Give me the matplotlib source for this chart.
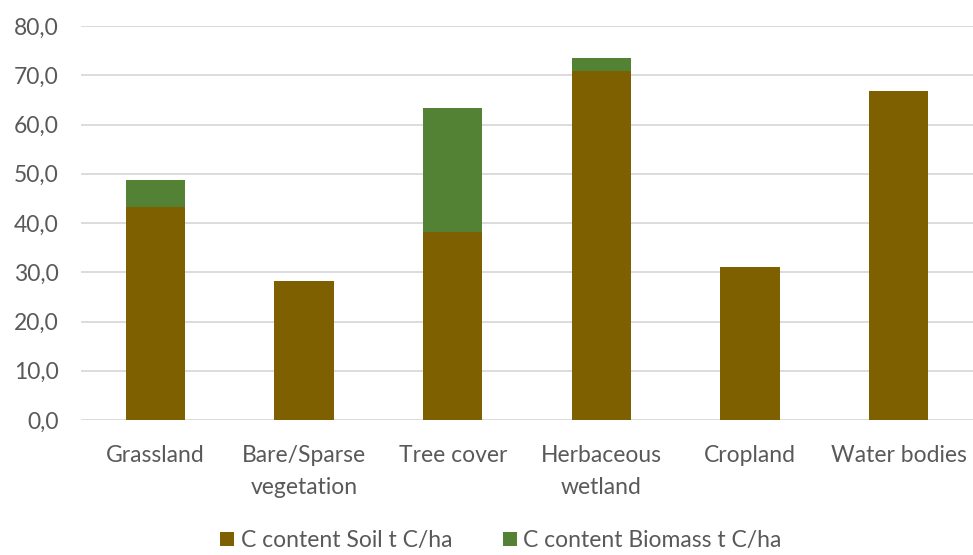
import numpy as np
import matplotlib.pyplot as plt

categories = ["Grassland", "Bare/Sparse\nvegetation", "Tree cover",
              "Herbaceous\nwetland", "Cropland", "Water bodies"]
soil = np.array([43.2, 28.3, 38.1, 70.8, 31.0, 66.9])
biomass = np.array([5.5, 0.0, 25.2, 2.7, 0.0, 0.0])

soil_color = "#7F6000"
biomass_color = "#548235"
text_color = "#595959"

plt.rcParams['font.family'] = ['Lato', 'DejaVu Sans']

fig = plt.figure(figsize=(9.73, 5.55), dpi=100)
ax = fig.add_axes([0.0833, 0.2432, 0.9167, 0.7098])

x = np.arange(len(categories))
ax.bar(x, soil, width=0.4, color=soil_color, label="C content Soil t C/ha", zorder=3)
ax.bar(x, biomass, width=0.4, bottom=soil, color=biomass_color,
       label="C content Biomass t C/ha", zorder=3)

ax.set_xlim(-0.5, len(categories) - 0.5)
ax.set_ylim(0, 80)
ax.set_yticks(np.arange(0, 81, 10))
ax.set_yticklabels([f"{v:.1f}".replace(".", ",") for v in np.arange(0, 81, 10)])
ax.set_xticks(x)
ax.set_xticklabels(categories, linespacing=1.65)

ax.grid(axis='y', color="#D9D9D9", linewidth=1.3, zorder=0)
for s in ax.spines.values():
    s.set_visible(False)
ax.tick_params(axis='both', length=0, labelsize=16.5, colors=text_color)
ax.tick_params(axis='y', pad=16)
ax.tick_params(axis='x', pad=18)

leg = fig.legend(loc='center', bbox_to_anchor=(0.515, 0.026), ncol=2, frameon=False,
                 fontsize=16.5, handlelength=0.6, handleheight=0.6, handletextpad=0.3,
                 columnspacing=2.2)
for t in leg.get_texts():
    t.set_color(text_color)

fig.savefig("out.png", dpi=100)
